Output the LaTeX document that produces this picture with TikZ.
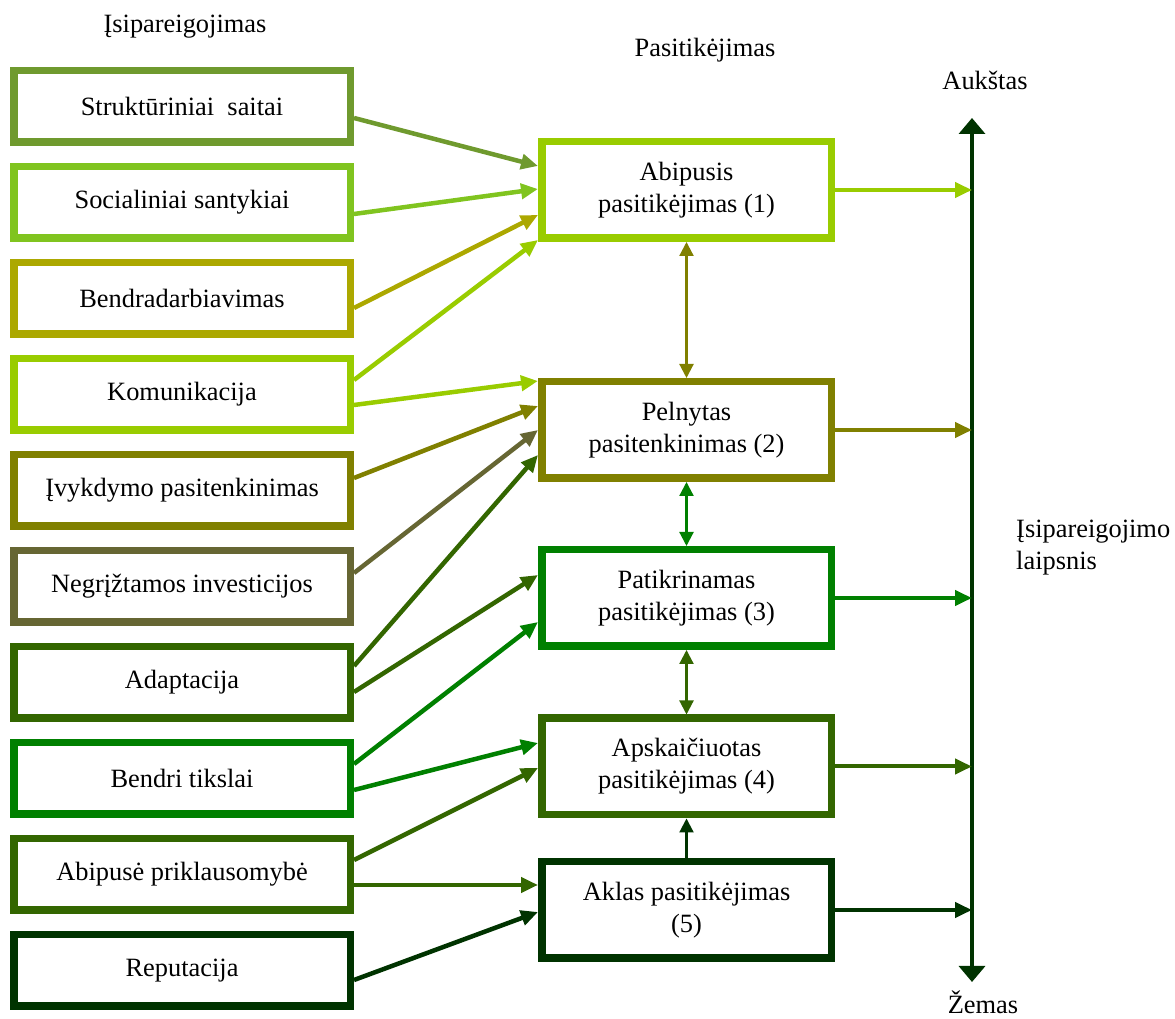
\documentclass[tikz,border=0pt]{standalone}
\usepackage{fontspec}
\setmainfont{Liberation Serif}
\newfontfamily\boxfont{Liberation Serif}
\usetikzlibrary{arrows.meta,calc}

\definecolor{cStruct}{HTML}{6F9A2E}
\definecolor{cSocial}{HTML}{80C41F}
\definecolor{cBendr}{HTML}{ACA800}
\definecolor{cLime}{HTML}{99CC00}
\definecolor{cOlive}{HTML}{808000}
\definecolor{cGrayOlive}{HTML}{666633}
\definecolor{cMoss}{HTML}{336600}
\definecolor{cGreen}{HTML}{008000}
\definecolor{cDark}{HTML}{003300}

\begin{document}
\begin{tikzpicture}[x=1pt,y=1pt,
  every node/.style={font=\boxfont\fontsize{26.4}{32}\selectfont, text=black},
  leftbox/.style={draw=#1, line width=7.5pt, fill=white, minimum width=336.5pt,
                  minimum height=71.5pt, inner sep=0pt},
  midbox/.style={draw=#1, line width=7.5pt, fill=white, minimum width=289.5pt,
                 minimum height=96.5pt, inner sep=0pt, align=center},
  link/.style={line width=4.5pt, -{Triangle[length=17pt,width=15pt]}},
  outlink/.style={line width=4pt, -{Triangle[length=17pt,width=15pt]}},
  vlink/.style={line width=2.2pt,
                {Triangle[length=14pt,width=14pt]}-{Triangle[length=14pt,width=14pt]}},
  uplink/.style={line width=2.2pt, -{Triangle[length=14pt,width=14pt]}},
  axisline/.style={line width=3.5pt, cDark,
                   {Triangle[length=16pt,width=26pt]}-{Triangle[length=16pt,width=26pt]}},
  label/.style={inner sep=0pt}
]
\useasboundingbox (0,0) rectangle (1175,1019);

% headings and axis labels
\node[label] (hLeft)  at (185,992) {Įsipareigojimas};
\node[label] (hMid)   at (705,969) {Pasitikėjimas};
\node[label] (hHigh)  at (985,939) {Aukštas};
\node[label, anchor=west, align=left] (hDeg) at (1016,471) {Įsipareigojimo\\laipsnis};
\node[label, anchor=base] (hLow) at (983,5) {Žemas};

% commitment factors
\node[leftbox=cStruct]    (l1)  at (182,912.5) {Struktūriniai\ \ saitai};
\node[leftbox=cSocial]    (l2)  at (182,816.5) {Socialiniai santykiai};
\node[leftbox=cBendr]     (l3)  at (182,720.5) {Bendradarbiavimas};
\node[leftbox=cLime]      (l4)  at (182,624.5) {Komunikacija};
\node[leftbox=cOlive]     (l5)  at (182,528.5) {Įvykdymo pasitenkinimas};
\node[leftbox=cGrayOlive] (l6)  at (182,432.5) {Negrįžtamos investicijos};
\node[leftbox=cMoss]      (l7)  at (182,336.5) {Adaptacija};
\node[leftbox=cGreen]     (l8)  at (182,240.5) {Bendri tikslai};
\node[leftbox=cMoss]      (l9)  at (182,144.5) {Abipusė priklausomybė};
\node[leftbox=cDark]      (l10) at (182,48.5)  {Reputacija};

% trust levels
\node[midbox=cLime]  (m1) at (686.5,829)   {Abipusis\\pasitikėjimas (1)};
\node[midbox=cOlive] (m2) at (686.5,589)   {Pelnytas\\pasitenkinimas (2)};
\node[midbox=cGreen] (m3) at (686.5,421)   {Patikrinamas\\pasitikėjimas (3)};
\node[midbox=cMoss]  (m4) at (686.5,252.5) {Apskaičiuotas\\pasitikėjimas (4)};
\node[midbox=cDark]  (m5) at (686.5,109)   {Aklas pasitikėjimas\\(5)};

% degree-of-commitment axis
\coordinate (axTop) at (972,901);
\coordinate (axBot) at (972,37);
\draw[axisline] (axBot) -- (axTop);

% factors feeding the trust levels
\draw[link, cStruct]    ([yshift=-11.5pt]l1.east) -- ([yshift=24pt]m1.west);
\draw[link, cSocial]    ([yshift=-11.5pt]l2.east) -- ([yshift=1pt]m1.west);
\draw[link, cBendr]     ([yshift=-9.5pt]l3.east)  -- ([yshift=-25pt]m1.west);
\draw[link, cLime]      ([yshift=14.5pt]l4.east)  -- ([yshift=-50pt]m1.west);
\draw[link, cLime]      ([yshift=-10.5pt]l4.east) -- ([yshift=49pt]m2.west);
\draw[link, cOlive]     ([yshift=12.5pt]l5.east)  -- ([yshift=24pt]m2.west);
\draw[link, cGrayOlive] ([yshift=13.5pt]l6.east)  -- ([yshift=0pt]m2.west);
\draw[link, cMoss]      ([yshift=16.5pt]l7.east)  -- ([yshift=-25pt]m2.west);
\draw[link, cMoss]      ([yshift=-9.5pt]l7.east)  -- ([yshift=23pt]m3.west);
\draw[link, cGreen]     ([yshift=14.5pt]l8.east)  -- ([yshift=-24pt]m3.west);
\draw[link, cGreen]     ([yshift=-11.5pt]l8.east) -- ([yshift=23.5pt]m4.west);
\draw[link, cMoss]      ([yshift=14.5pt]l9.east)  -- ([yshift=-1.5pt]m4.west);
\draw[link, cMoss]      ([yshift=-10.5pt]l9.east) -- ([yshift=25pt]m5.west);
\draw[link, cDark]      ([yshift=-9.5pt]l10.east) -- ([yshift=-2pt]m5.west);

% links between trust levels
\draw[vlink, cOlive] (m1.south) -- (m2.north);
\draw[vlink, cGreen] (m2.south) -- (m3.north);
\draw[vlink, cMoss]  (m3.south) -- (m4.north);
\draw[uplink, cDark] (m5.north) -- (m4.south);

% trust levels placed on the axis
\draw[outlink, cLime]  (m1.east) -- (m1.east -| axTop);
\draw[outlink, cOlive] (m2.east) -- (m2.east -| axTop);
\draw[outlink, cGreen] (m3.east) -- (m3.east -| axTop);
\draw[outlink, cMoss]  (m4.east) -- (m4.east -| axTop);
\draw[outlink, cDark]  (m5.east) -- (m5.east -| axTop);
\end{tikzpicture}
\end{document}
